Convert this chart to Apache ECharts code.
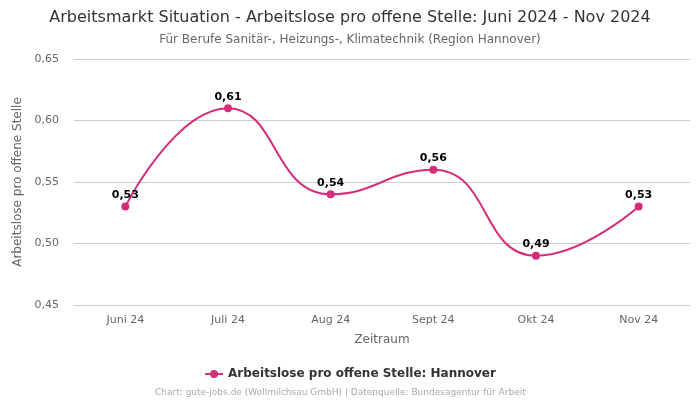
<!DOCTYPE html>
<html><head><meta charset="utf-8">
<script src="https://cdn.jsdelivr.net/npm/echarts@6/dist/echarts.min.js"></script>
<style>html,body{margin:0;padding:0;background:#fff}#c{width:700px;height:400px}</style>
</head><body><div id="c"></div>
<script>
const categories = ['Juni 24','Juli 24','Aug 24','Sept 24','Okt 24','Nov 24'];
const values = [0.53, 0.61, 0.54, 0.56, 0.49, 0.53];
const seriesName = 'Arbeitslose pro offene Stelle: Hannover';
const chart = echarts.init(document.getElementById('c'));
const fmt = v => v.toFixed(2).replace('.', ',');
chart.setOption({
  backgroundColor: '#fff',
  textStyle: { fontFamily: 'DejaVu Sans' },
  title: [{
    text: 'Arbeitsmarkt Situation - Arbeitslose pro offene Stelle: Juni 2024 - Nov 2024',
    left: 'center', top: 5,
    textStyle: { fontSize: 16, fontWeight: 'normal', color: '#333', fontFamily: 'DejaVu Sans' }
  }, {
    text: 'Für Berufe Sanitär-, Heizungs-, Klimatechnik (Region Hannover)',
    left: 'center', top: 29,
    textStyle: { fontSize: 12, fontWeight: 'normal', color: '#666', fontFamily: 'DejaVu Sans' }
  }, {
    text: 'Chart: gute-jobs.de (Wollmilchsau GmbH) | Datenquelle: Bundesagentur für Arbeit',
    left: 150, top: 383,
    textStyle: { fontSize: 9, fontWeight: 'normal', color: '#aaa', fontFamily: 'DejaVu Sans' }
  }],
  legend: {
    bottom: 15, left: 'center',
    itemWidth: 18, itemHeight: 10,
    textStyle: { fontSize: 12, fontWeight: 'bold', color: '#333' },
    data: [seriesName]
  },
  grid: { left: 74, right: 10, top: 59, bottom: 95 },
  xAxis: {
    type: 'category', data: categories, boundaryGap: true,
    name: 'Zeitraum', nameLocation: 'middle', nameGap: 29,
    nameTextStyle: { fontSize: 12, color: '#666' },
    axisLine: { lineStyle: { color: '#ccc' } },
    axisTick: { show: false },
    axisLabel: { fontSize: 11, color: '#666', margin: 10 }
  },
  yAxis: {
    type: 'value', min: 0.45, max: 0.65, interval: 0.05,
    name: 'Arbeitslose pro offene Stelle', nameLocation: 'middle', nameGap: 44,
    nameTextStyle: { fontSize: 12, color: '#666' },
    axisLine: { show: false }, axisTick: { show: false },
    axisLabel: { fontSize: 11, color: '#666', formatter: v => fmt(v), margin: 15 },
    splitLine: { lineStyle: { color: '#ccc' } }
  },
  series: [{
    name: seriesName, type: 'line', data: values, smooth: 0.5,
    symbol: 'circle', symbolSize: 8,
    itemStyle: { color: '#d42e7b' },
    lineStyle: { width: 2, color: '#d42e7b' },
    label: { show: true, position: 'top', fontSize: 11, fontWeight: 'bold', color: '#000', formatter: p => fmt(p.value), distance: 2 }
  }]
});
</script></body></html>
